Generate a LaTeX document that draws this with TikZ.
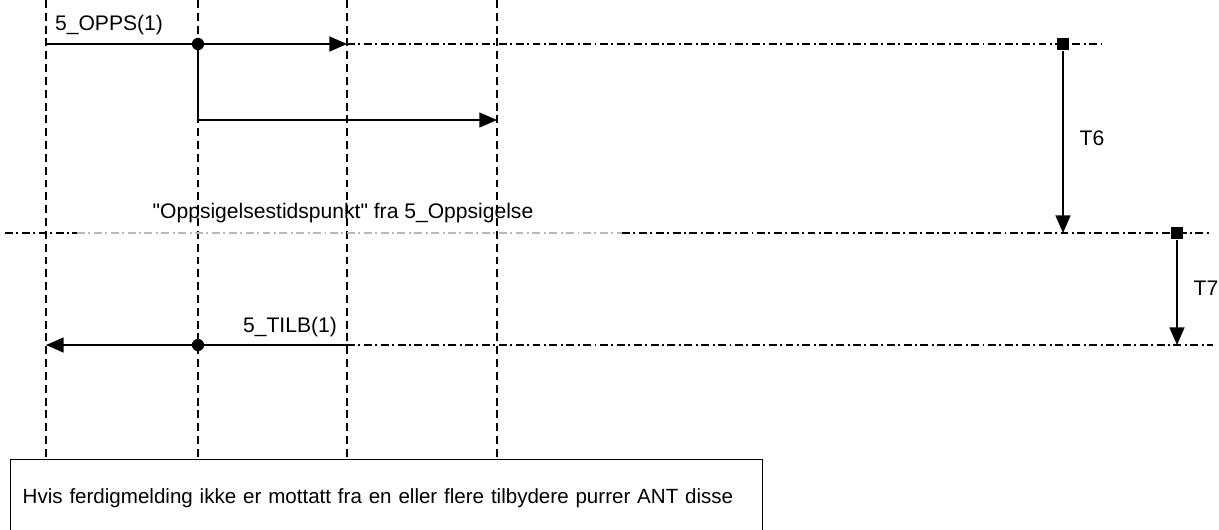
\documentclass[tikz,border=0pt]{standalone}
\usepackage{fontspec}
\setmainfont{Liberation Sans}[Ligatures=TeXOff]
\usetikzlibrary{arrows.meta}
\definecolor{fadegrey}{RGB}{185, 185, 185}

\begin{document}
\begin{tikzpicture}[x=0.02cm, y=-0.02cm, font=\fontsize{12}{14}\selectfont,
            lifeline/.style = {draw=black, line width=0.8pt, dash pattern=on 4.5pt off 2.8pt},
            timeline/.style = {draw=black, line width=0.7pt, dash pattern=on 4.5pt off 2pt on 1.1pt off 2pt},
            msg/.style = {draw=black, line width=0.8pt, -{Triangle[length=10pt,width=8.5pt]}},
            fork/.style = {circle, fill=black, inner sep=0pt, minimum size=7pt},
            stamp/.style = {rectangle, fill=black, inner sep=0pt, minimum size=7pt},
            notebox/.style = {draw=black, line width=0.8pt, anchor=north west, align=left,
                font=\fontsize{11.7}{14}\selectfont, text width=14.56cm, inner xsep=0.24cm,
                minimum height=1.52cm}]
        \useasboundingbox (0,0) rectangle (1219,529);

        % lifelines
        \foreach \x/\n in {46/a, 198/b, 347/c, 497/d} {
            \coordinate (\n top) at (\x,0);
            \coordinate (\n bot) at (\x,459);
            \draw[lifeline] (\n top) -- (\n bot);
        }

        % 5_OPPS
        \coordinate (opps start) at (46,44);
        \coordinate (opps end) at (347,44);
        \coordinate (opps bend) at (198,120);
        \coordinate (opps branch) at (497,120);
        \draw[msg] (opps start) -- (opps end);
        \draw[msg] (198,44) -- (opps bend) -- (opps branch);
        \node[fork] (opps fork) at (198,44) {};
        \node (opps label) at (109,25) {5\_OPPS(1)};

        % T6
        \node[stamp] (t6 start) at (1063,44) {};
        \coordinate (opps tail) at (1102,44);
        \coordinate (t6 end) at (1063,233);
        \draw[timeline] (opps end) -- (opps tail);
        \draw[msg] (t6 start) -- (t6 end);
        \node (t6 label) at (1092,138) {T6};

        % oppsigelsestidspunkt
        \coordinate (cut left) at (5,233);
        \coordinate (cut fade) at (77,233);
        \coordinate (cut dark) at (622,233);
        \coordinate (cut right) at (1210,233);
        \draw[timeline] (cut left) -- (cut fade);
        \draw[timeline, draw=fadegrey] (cut fade) -- (cut dark);
        \draw[timeline] (cut dark) -- (cut right);
        \node (cut label) at (343,213) {"Oppsigelsestidspunkt" fra 5\_Oppsigelse};

        % T7
        \node[stamp] (t7 start) at (1177,233) {};
        \coordinate (t7 end) at (1177,345);
        \draw[msg] (t7 start) -- (t7 end);
        \node (t7 label) at (1206,288) {T7};

        % 5_TILB
        \coordinate (tilb start) at (347,345);
        \coordinate (tilb end) at (46,345);
        \coordinate (tilb tail) at (1213,345);
        \draw[timeline] (tilb start) -- (tilb tail);
        \draw[msg] (tilb start) -- (tilb end);
        \node[fork] (tilb fork) at (198,345) {};
        \node (tilb label) at (290,327) {5\_TILB(1)};

        \node[notebox] (note) at (10,459) {Hvis ferdigmelding ikke er mottatt fra en eller flere tilbydere purrer ANT disse};
\end{tikzpicture}
\end{document}
